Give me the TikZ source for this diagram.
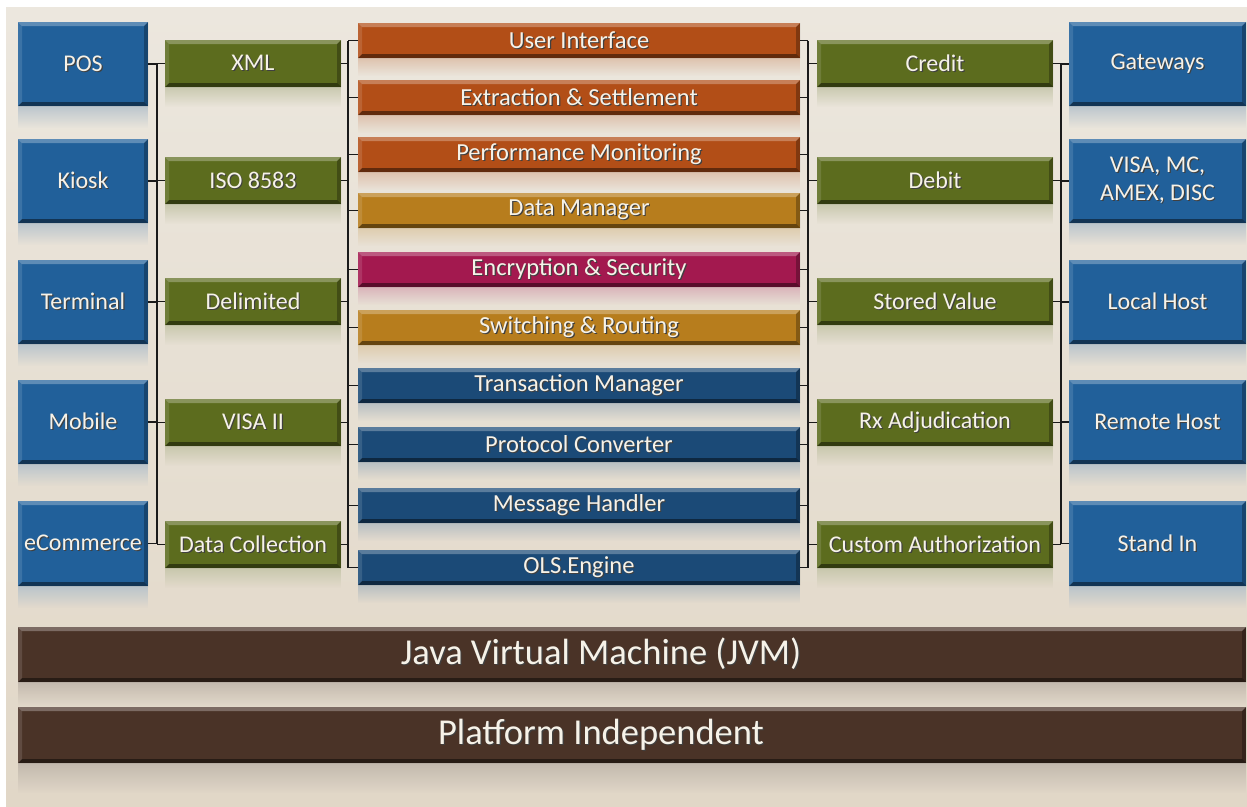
\documentclass[tikz,border=0pt]{standalone}
\usepackage{fontspec}
\setmainfont{Carlito}
\usetikzlibrary{fadings}
\definecolor{bgtop}{HTML}{ECE7DE}
\definecolor{bgbot}{HTML}{E1D7C7}
\definecolor{cblue}{HTML}{21609A}
\definecolor{cgreen}{HTML}{5C6C1E}
\definecolor{corange}{HTML}{B24E17}
\definecolor{cgold}{HTML}{B77D1D}
\definecolor{cmag}{HTML}{A3194F}
\definecolor{cdblue}{HTML}{1B4A77}
\definecolor{cbrown}{HTML}{4A3327}
\definecolor{txt}{HTML}{F6F2E8}
\definecolor{linec}{HTML}{1A1A1A}
\tikzfading[name=reflfade, top color=transparent!20, bottom color=transparent!100]
\newcommand\shtxt[1]{\leavevmode\rlap{\hspace{1.2pt}\raisebox{-1.2pt}{\color{black!75}#1}}#1}
% [#1 style], #2 name, #3 colour, #4 x1, #5 y1, #6 x2, #7 y2, #8 reflection height, #9 text
\newcommand\bx[9][box]{%
  \fill[#3!30!bgtop, path fading=reflfade] (#4,#7) rectangle (#6,#7+#8);
  \node[#1, fill=#3, minimum width={#6-#4}, minimum height={#7-#5}] (#2) at ({(#4+#6)/2},{(#5+#7)/2}) {#9};
}
\tikzset{
  bevel/.style={path picture={
    \path (path picture bounding box.north west) coordinate (nw)
          (path picture bounding box.north east) coordinate (ne)
          (path picture bounding box.south west) coordinate (sw)
          (path picture bounding box.south east) coordinate (se);
    \fill[white, opacity=.28] (nw) -- (ne) -- ([shift={(-4,4)}]ne) -- ([shift={(4,4)}]nw) -- cycle;
    \fill[black, opacity=.45] (sw) -- (se) -- ([shift={(-4,-4)}]se) -- ([shift={(4,-4)}]sw) -- cycle;
    \fill[black, opacity=.28] (ne) -- (se) -- ([shift={(-4,-4)}]se) -- ([shift={(-4,4)}]ne) -- cycle;
    \fill[white, opacity=.12] (nw) -- (sw) -- ([shift={(4,-4)}]sw) -- ([shift={(4,4)}]nw) -- cycle;
  }},
  box/.style={rectangle, inner sep=0pt, text=txt, align=center,
    font=\fontsize{24}{28}\selectfont, bevel},
  barbox/.style={box, font=\fontsize{24.5}{28}\selectfont},
  bigbox/.style={box, font=\fontsize{36.5}{40}\selectfont},
  conn/.style={draw=linec, line width=1.6pt}
}
\begin{document}
\begin{tikzpicture}[x=1pt, y=-1pt]
\useasboundingbox (0,0) rectangle (1247,806);
\fill[white] (0,0) rectangle (1247,806);
\shade[top color=bgtop, bottom color=bgbot] (6,7) rectangle (1247,806);

% left blue column
\bx{b1}{cblue}{18}{22}{148}{106}{22}{\shtxt{POS}}
\bx{b2}{cblue}{18}{139}{148}{223}{22}{\shtxt{Kiosk}}
\bx{b3}{cblue}{18}{260}{148}{344}{22}{\shtxt{Terminal}}
\bx{b4}{cblue}{18}{380}{148}{464}{22}{\shtxt{Mobile}}
\bx{b5}{cblue}{18}{501}{148}{586}{22}{\shtxt{eCommerce}}

% left green column
\bx{g1}{cgreen}{165}{40}{341}{87}{20}{\shtxt{XML}}
\bx{g2}{cgreen}{165}{157}{341}{204}{20}{\shtxt{ISO 8583}}
\bx{g3}{cgreen}{165}{278}{341}{325}{20}{\shtxt{Delimited}}
\bx{g4}{cgreen}{165}{399}{341}{446}{20}{\shtxt{VISA II}}
\bx{g5}{cgreen}{165}{521}{341}{568}{20}{\shtxt{Data Collection}}

% centre bars
\bx[barbox]{m1}{corange}{358}{23}{800}{58}{18}{\shtxt{User Interface}}
\bx[barbox]{m2}{corange}{358}{80}{800}{115}{18}{\shtxt{Extraction \& Settlement}}
\bx[barbox]{m3}{corange}{358}{137}{800}{172}{18}{\shtxt{Performance Monitoring}}
\bx[barbox]{m4}{cgold}{358}{193}{800}{228}{18}{\shtxt{Data Manager}}
\bx[barbox]{m5}{cmag}{358}{252}{800}{287}{18}{\shtxt{Encryption \& Security}}
\bx[barbox]{m6}{cgold}{358}{310}{800}{345}{18}{\shtxt{Switching \& Routing}}
\bx[barbox]{m7}{cdblue}{358}{368}{800}{403}{18}{\shtxt{Transaction Manager}}
\bx[barbox]{m8}{cdblue}{358}{427}{800}{462}{18}{\shtxt{Protocol Converter}}
\bx[barbox]{m9}{cdblue}{358}{488}{800}{523}{18}{\shtxt{Message Handler}}
\bx[barbox]{m10}{cdblue}{358}{550}{800}{585}{18}{\shtxt{OLS.Engine}}

% right green column
\bx{rg1}{cgreen}{817}{40}{1053}{87}{20}{\shtxt{Credit}}
\bx{rg2}{cgreen}{817}{157}{1053}{204}{20}{\shtxt{Debit}}
\bx{rg3}{cgreen}{817}{278}{1053}{325}{20}{\shtxt{Stored Value}}
\bx{rg4}{cgreen}{817}{399}{1053}{446}{20}{\shtxt{Rx Adjudication}}
\bx{rg5}{cgreen}{817}{521}{1053}{568}{20}{\shtxt{Custom Authorization}}

% right blue column
\bx{rb1}{cblue}{1069}{22}{1246}{106}{22}{\shtxt{Gateways}}
\bx{rb2}{cblue}{1069}{139}{1246}{223}{22}{\shtxt{VISA, MC,}\\\shtxt{AMEX, DISC}}
\bx{rb3}{cblue}{1069}{260}{1246}{344}{22}{\shtxt{Local Host}}
\bx{rb4}{cblue}{1069}{380}{1246}{464}{22}{\shtxt{Remote Host}}
\bx{rb5}{cblue}{1069}{501}{1246}{586}{22}{\shtxt{Stand In}}

% platform bars
\bx[bigbox]{jvm}{cbrown}{18}{627}{1246}{682}{24}{\hspace*{-62pt}\shtxt{Java Virtual Machine (JVM)}}
\bx[bigbox]{plat}{cbrown}{18}{707}{1246}{763}{30}{\hspace*{-62pt}\shtxt{Platform Independent}}

% bus coordinates
\coordinate (lbusA) at (157,0);
\coordinate (lbusB) at (348,0);
\coordinate (rbusA) at (808,0);
\coordinate (rbusB) at (1061,0);

\foreach \i in {1,...,5}{
  \draw[conn] (b\i.east) -- (b\i.east -| lbusA);
  \draw[conn] (lbusA |- g\i.west) -- (g\i.west);
  \draw[conn] (g\i.east) -- (g\i.east -| lbusB);
  \draw[conn] (rg\i.east) -- (rg\i.east -| rbusB);
  \draw[conn] (rbusA |- rg\i.west) -- (rg\i.west);
  \draw[conn] (rbusB |- rb\i.west) -- (rb\i.west);
}
\foreach \j in {1,...,10}{
  \draw[conn] (lbusB |- m\j.west) -- (m\j.west);
  \draw[conn] (m\j.east) -- (m\j.east -| rbusA);
}
\draw[conn] (lbusA |- b1.east) -- (lbusA |- b5.east);
\draw[conn] (lbusB |- m1.west) -- (lbusB |- m10.west);
\draw[conn] (rbusA |- m1.east) -- (rbusA |- m10.east);
\draw[conn] (rbusB |- rb1.west) -- (rbusB |- rb5.west);
\end{tikzpicture}
\end{document}
